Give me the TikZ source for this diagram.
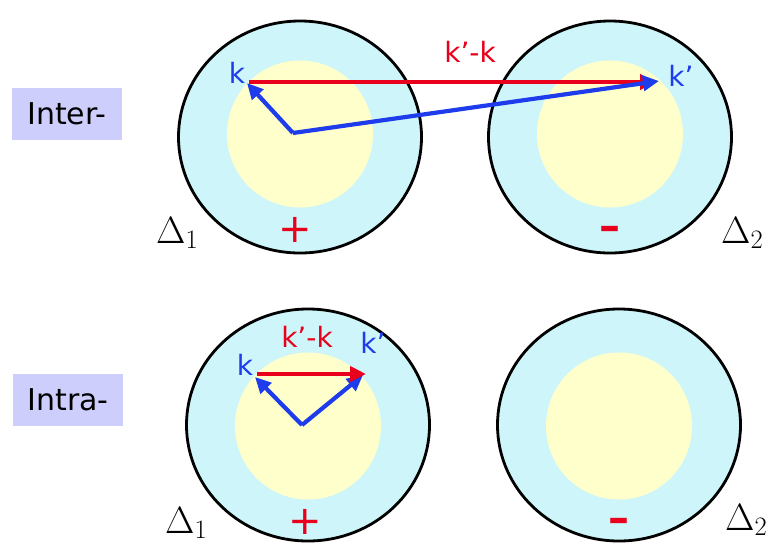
\documentclass[tikz,border=0pt]{standalone}
\usepackage{fix-cm}
\usepackage{fontspec}
\setsansfont{DejaVu Sans}
\usetikzlibrary{shapes.geometric,arrows.meta}
\definecolor{ringcyan}{RGB}{206,246,250}
\definecolor{coreyellow}{RGB}{255,255,204}
\definecolor{boxlav}{RGB}{206,206,252}
\definecolor{vred}{RGB}{232,0,28}
\definecolor{vblue}{RGB}{30,60,235}
\begin{document}
\begin{tikzpicture}[x=1pt,y=-1pt,
  outer/.style={ellipse, draw=black, line width=2.8pt, fill=ringcyan, minimum width=243pt, minimum height=232pt, inner sep=0pt},
  core/.style={ellipse, fill=coreyellow, minimum width=146pt, minimum height=147pt, inner sep=0pt},
  typebox/.style={fill=boxlav, minimum width=110pt, minimum height=52pt, inner sep=0pt, font=\sffamily\fontsize{30}{30}\selectfont},
  klabel/.style={text=vblue, inner sep=0pt, font=\sffamily\fontsize{28}{28}\selectfont},
  difflabel/.style={text=vred, inner sep=0pt, font=\sffamily\fontsize{28}{28}\selectfont},
  plussign/.style={text=vred, inner sep=0pt, font=\sffamily\fontsize{40}{40}\selectfont},
  minussign/.style={text=vred, inner sep=0pt, font=\sffamily\bfseries\fontsize{42}{42}\selectfont},
  gaplabel/.style={anchor=base west, inner sep=0pt, font=\fontsize{38}{38}\selectfont},
  bluevec/.style={draw=vblue, line width=4.2pt, -{Triangle[length=16pt,width=15pt]}},
  redvec/.style={draw=vred, line width=4.2pt, -{Triangle[length=16pt,width=15pt]}}
]
\useasboundingbox (0,0) rectangle (771,550);
\fill[white] (0,0) rectangle (771,550);

% side labels
\node[typebox] (inter) at (67,114) {Inter-};
\node[typebox] (intra) at (68,400) {Intra-};

% top row
\node[outer] (t1) at (300,137) {};
\node[core] (tc1) at (300,134) {};
\node[outer] (t2) at (610,137) {};
\node[core] (tc2) at (610,134) {};

\coordinate (o1) at (293,133);
\coordinate (k1) at (247,83);
\coordinate (kp1) at (659,81);
\coordinate (rs1) at (249,82);
\coordinate (re1) at (656,82);
\draw[redvec] (rs1) -- (re1);
\draw[bluevec] (o1) -- (k1);
\draw[bluevec] (o1) -- (kp1);

\node[klabel] (lk1) at (237,73) {k};
\node[klabel] (lkp1) at (681,76) {k’};
\node[difflabel] (ld1) at (470,52) {k’-k};

\node[plussign] (p1) at (295,230) {+};
\node[minussign] (m1) at (610,233) {–};
\node[gaplabel] (d1) at (156,243) {$\Delta_1$};
\node[gaplabel] (d2) at (721,243) {$\Delta_2$};

% bottom row
\node[outer] (b1) at (308,425) {};
\node[core] (bc1) at (308,426) {};
\node[outer] (b2) at (619,425) {};
\node[core] (bc2) at (619,426) {};

\coordinate (o2) at (302,425);
\coordinate (k2) at (255,377);
\coordinate (kp2) at (363,375);
\coordinate (rs2) at (257,374);
\coordinate (re2) at (366,374);
\draw[bluevec] (o2) -- (k2);
\draw[bluevec] (o2) -- (kp2);
\draw[redvec] (rs2) -- (re2);

\node[klabel] (lk2) at (245,365) {k};
\node[klabel] (lkp2) at (373,343) {k’};
\node[difflabel] (ld2) at (307,337) {k’-k};

\node[plussign] (p2) at (305,522) {+};
\node[minussign] (m2) at (619,525) {–};
\node[gaplabel] (d3) at (165,533) {$\Delta_1$};
\node[gaplabel] (d4) at (725,530) {$\Delta_2$};
\end{tikzpicture}
\end{document}
